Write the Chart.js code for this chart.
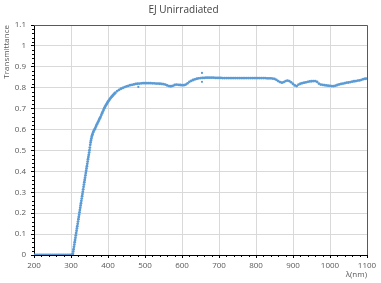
<!DOCTYPE html>
<html>
<head>
<meta charset="utf-8">
<script src="https://cdn.jsdelivr.net/npm/chart.js@4.4.1/dist/chart.umd.min.js"></script>
<style>
  html, body { margin: 0; padding: 0; background: #fff; }
  #wrap { width: 381px; height: 283px; }
</style>
</head>
<body>
<div id="wrap"><canvas id="chart" width="381" height="283"></canvas></div>
<script>
// wavelength (nm) and transmittance
const wavelengths = [
  200, 205, 210, 215, 220, 225, 230, 235, 240, 245, 250, 255, 260, 265, 270, 275, 280, 285, 290, 295, 300, 302,
  304, 305, 306, 307, 308, 309, 310, 311, 312, 313, 314, 315, 316, 317, 318, 319, 320, 321, 322, 323, 324, 325,
  326, 327, 328, 329, 330, 331, 332, 333, 334, 335, 336, 337, 338, 339, 340, 341, 342, 343, 344, 345, 346, 347,
  348, 349, 350, 351, 352, 353, 354, 355, 356, 357, 358,
  360, 362, 364, 366, 368, 370, 372, 374, 376, 378, 380, 382, 384, 386, 388, 390, 392, 394, 396, 398, 400,
  402, 404, 406, 408, 410, 412, 414, 416, 418, 420,
  425, 430, 435, 440, 445, 450, 455, 460, 465, 470, 475, 480, 485, 490, 495, 500, 505, 510, 515, 520, 525,
  530, 535, 540, 545, 550, 555, 560, 565, 570, 575, 580, 585, 590, 595, 600, 605, 610, 615, 620, 625, 630,
  635, 640, 645, 650, 655, 660, 665, 670, 675, 680, 685, 690, 695, 700, 705, 710, 715, 720, 725, 730, 735,
  740, 745, 750, 755, 760, 765, 770, 775, 780, 785, 790, 795, 800, 805, 810, 815, 820, 825, 830, 835, 840,
  845, 850, 855, 860, 865, 870, 875, 880, 885, 890, 895, 900, 905, 910, 915, 920, 925, 930, 935, 940, 945,
  950, 955, 960, 965, 970, 975, 980, 985, 990, 995, 1000, 1005, 1010, 1015, 1020, 1025, 1030, 1035, 1040,
  1045, 1050, 1055, 1060, 1065, 1070, 1075, 1080, 1085, 1090, 1095, 1100
];
const transmittance = [
  0, 0, 0, 0, 0, 0, 0, 0, 0, 0, 0, 0, 0, 0, 0, 0, 0, 0, 0, 0, 0, 0,
  0.000, 0.006, 0.017, 0.028, 0.039, 0.050, 0.061, 0.072, 0.083, 0.094, 0.105, 0.116, 0.127, 0.138, 0.149, 0.160, 0.171, 0.182, 0.193, 0.204, 0.215, 0.226,
  0.237, 0.248, 0.259, 0.270, 0.281, 0.292, 0.303, 0.314, 0.326, 0.337, 0.348, 0.359, 0.370, 0.381, 0.392, 0.403, 0.414, 0.425, 0.436, 0.447, 0.458, 0.469,
  0.479, 0.490, 0.501, 0.514, 0.527, 0.538, 0.548, 0.557, 0.565, 0.572, 0.578,
  0.587, 0.595, 0.602, 0.609, 0.617, 0.625, 0.632, 0.639, 0.647, 0.654, 0.661, 0.669, 0.678, 0.686, 0.694, 0.702, 0.709, 0.715, 0.721, 0.727, 0.733,
  0.738, 0.743, 0.748, 0.753, 0.757, 0.761, 0.765, 0.769, 0.773, 0.776,
  0.784, 0.790, 0.795, 0.799, 0.803, 0.806, 0.809, 0.812, 0.814, 0.816, 0.818, 0.819, 0.820, 0.821, 0.822, 0.822, 0.822, 0.822, 0.822, 0.821, 0.821,
  0.820, 0.820, 0.819, 0.818, 0.817, 0.815, 0.811, 0.808, 0.807, 0.809, 0.813, 0.815, 0.814, 0.813, 0.812, 0.812, 0.815, 0.821, 0.828, 0.833, 0.837,
  0.840, 0.843, 0.845, 0.846, 0.847, 0.847, 0.848, 0.848, 0.848, 0.848, 0.848, 0.847, 0.847, 0.847, 0.847, 0.846, 0.846, 0.846, 0.846, 0.846, 0.846,
  0.846, 0.846, 0.846, 0.846, 0.846, 0.846, 0.846, 0.846, 0.846, 0.846, 0.846, 0.846, 0.846, 0.846, 0.846, 0.846, 0.846, 0.846, 0.845, 0.845, 0.845,
  0.844, 0.842, 0.838, 0.832, 0.827, 0.824, 0.827, 0.832, 0.834, 0.832, 0.826, 0.818, 0.811, 0.808, 0.815, 0.819, 0.822, 0.824, 0.826, 0.828, 0.830,
  0.831, 0.832, 0.832, 0.828, 0.820, 0.815, 0.814, 0.812, 0.811, 0.810, 0.809, 0.808, 0.808, 0.810, 0.813, 0.816, 0.818, 0.820, 0.822,
  0.824, 0.825, 0.827, 0.829, 0.831, 0.832, 0.834, 0.835, 0.838, 0.841, 0.843, 0.844
];
// stray readings
const strayWavelengths = [482, 654, 654];
const strayTransmittance = [0.804, 0.871, 0.828];

const xTicks = [200, 300, 400, 500, 600, 700, 800, 900, 1000, 1100];
const yTicks = [0, 0.1, 0.2, 0.3, 0.4, 0.5, 0.6, 0.7, 0.8, 0.9, 1, 1.1];

const BLUE = '#5B9BD5';
const TEXT = '#595959';
const FONT = "'Open Sans', 'Noto Sans', sans-serif";

// plot-area frame (top/right) and minor tick marks
const frameAndMinorTicks = {
  id: 'frameAndMinorTicks',
  afterDraw(chart) {
    const { ctx, chartArea: a, scales: { x, y } } = chart;
    ctx.save();
    ctx.strokeStyle = '#595959';
    ctx.lineWidth = 1;
    ctx.beginPath();
    ctx.moveTo(a.left, a.top + 0.5);
    ctx.lineTo(a.right + 0.5, a.top + 0.5);
    ctx.lineTo(a.right + 0.5, a.bottom);
    ctx.stroke();

    ctx.strokeStyle = '#000';
    ctx.beginPath();
    for (let v = 200; v < 1100; v += 20) {
      if (v % 100 === 0) continue;
      const px = Math.round(x.getPixelForValue(v)) + 0.5;
      ctx.moveTo(px, a.bottom);
      ctx.lineTo(px, a.bottom + 2);
    }
    for (let i = 1; i < 55; i++) {
      if (i % 5 === 0) continue;
      const py = Math.round(y.getPixelForValue(i * 0.02)) + 0.5;
      ctx.moveTo(a.left - 2, py);
      ctx.lineTo(a.left, py);
    }
    ctx.stroke();
    ctx.restore();
  }
};

new Chart(document.getElementById('chart'), {
  type: 'scatter',
  data: {
    datasets: [{
      data: wavelengths.map((w, i) => ({ x: w, y: transmittance[i] })),
      backgroundColor: BLUE,
      borderWidth: 0,
      pointRadius: 1.4,
    }, {
      data: strayWavelengths.map((w, i) => ({ x: w, y: strayTransmittance[i] })),
      backgroundColor: BLUE,
      borderWidth: 0,
      pointRadius: 1.1,
    }],
  },
  options: {
    responsive: false,
    animation: false,
    layout: { padding: { left: 0, right: 14, top: 0, bottom: 0 } },
    plugins: {
      legend: { display: false },
      tooltip: { enabled: false },
      title: {
        display: true,
        text: 'EJ Unirradiated',
        color: '#404040',
        font: { family: FONT, size: 10, weight: 'normal', lineHeight: 1.2 },
        padding: { top: 4, bottom: 9 },
      },
    },
    scales: {
      x: {
        type: 'linear',
        min: 200,
        max: 1100,
        afterBuildTicks: (s) => { s.ticks = xTicks.map(v => ({ value: v })); },
        afterFit: (s) => { s.height = 28; },
        ticks: {
          color: TEXT,
          font: { family: FONT, size: 8 },
          padding: 3,
          maxRotation: 0,
          callback: (v) => String(v),
        },
        grid: { color: '#D9D9D9', tickColor: '#000', tickLength: 3 },
        border: { color: '#000', width: 1 },
        title: {
          display: true,
          text: 'λ(nm)',
          align: 'end',
          color: TEXT,
          font: { family: FONT, size: 8, lineHeight: 1.2 },
          padding: { top: 0, bottom: 3 },
        },
      },
      y: {
        min: 0,
        max: 1.1,
        afterBuildTicks: (s) => { s.ticks = yTicks.map(v => ({ value: v })); },
        afterFit: (s) => { s.width = 34; },
        ticks: {
          color: TEXT,
          font: { family: FONT, size: 8 },
          padding: 5,
          callback: (v) => String(Math.round(v * 10) / 10),
        },
        grid: { color: '#D9D9D9', tickColor: '#000', tickLength: 3 },
        border: { color: '#000', width: 1 },
        title: {
          display: true,
          text: 'Transmittance',
          align: 'end',
          color: TEXT,
          font: { family: FONT, size: 8, lineHeight: 1.2 },
          padding: { top: 2, bottom: 0 },
        },
      },
    },
  },
  plugins: [frameAndMinorTicks],
});
</script>
</body>
</html>
